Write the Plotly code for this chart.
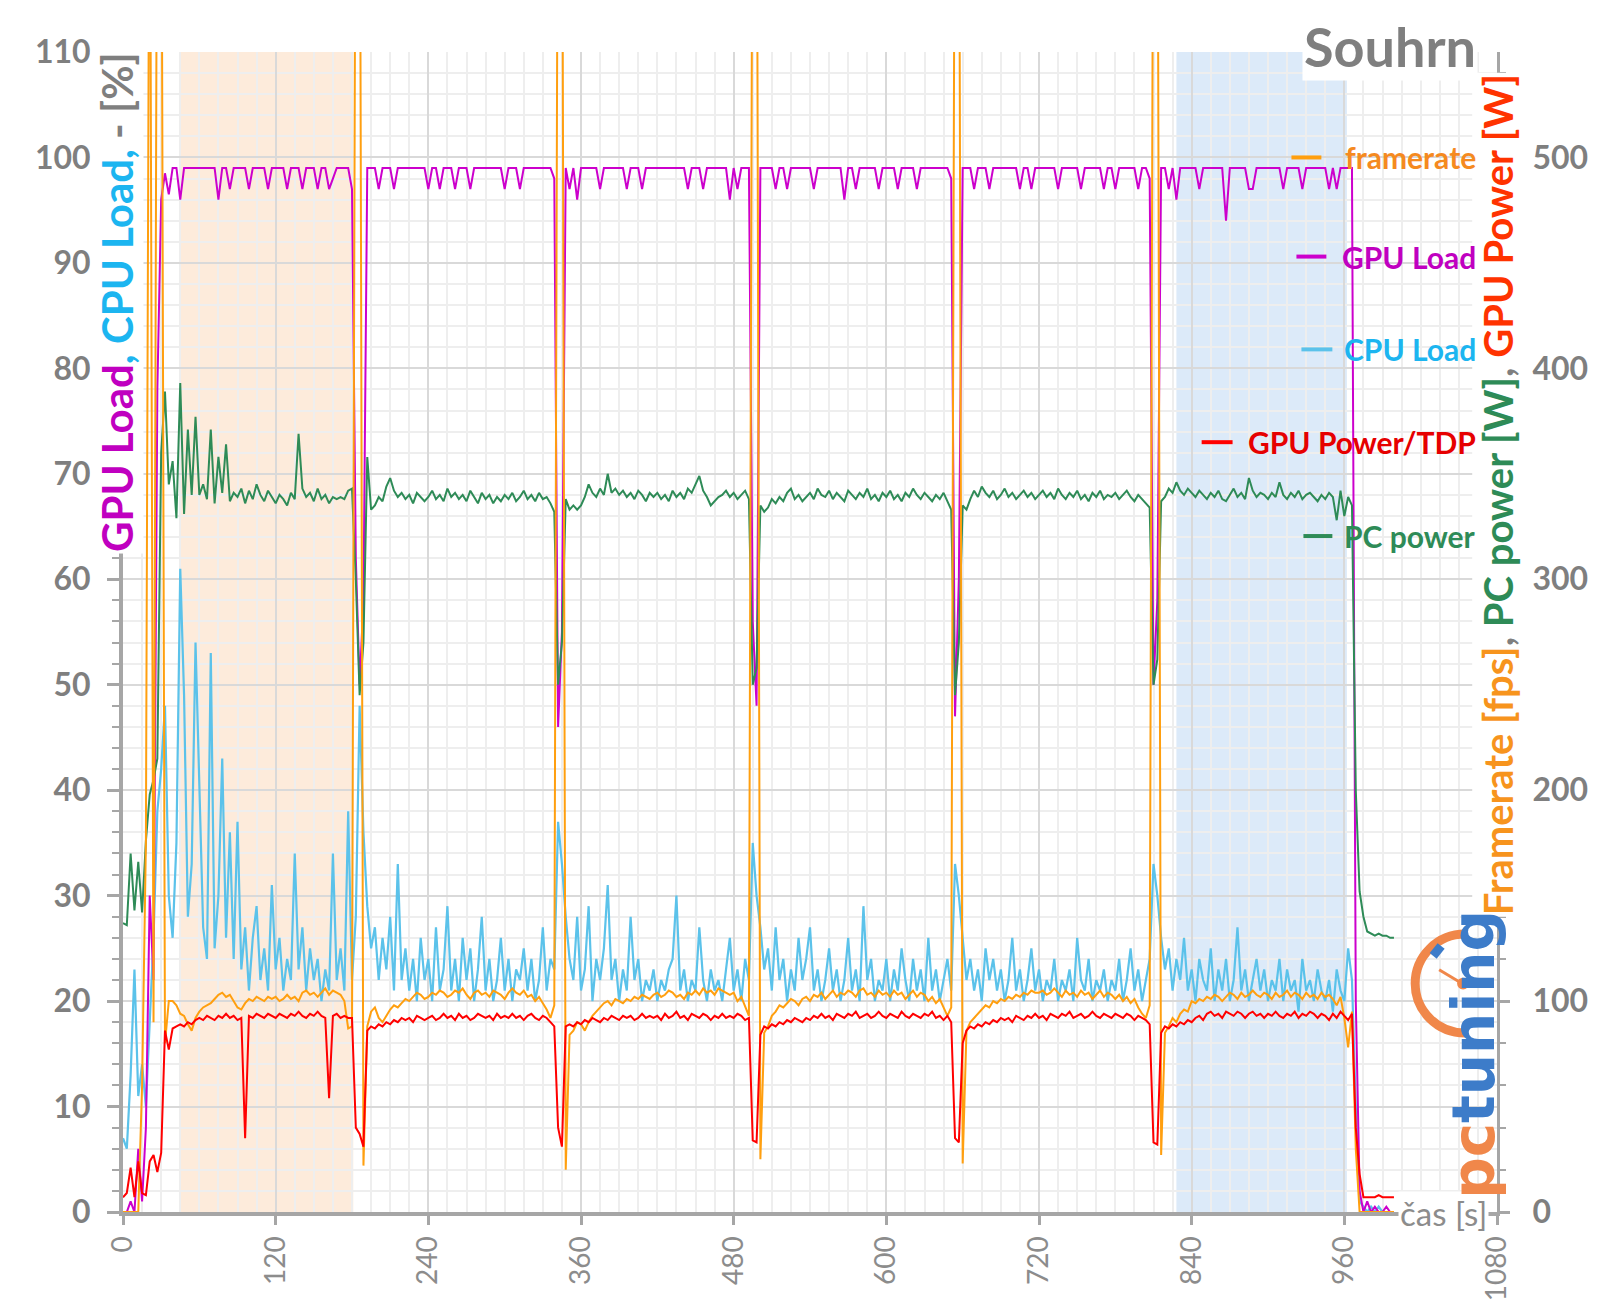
import plotly.graph_objects as go

# ---------------- data (3 s sampling) ----------------
time_s = list(range(0, 1000, 3))  # 0 .. 999 s

gpu_load_pct = [
    0, 0, 1, 0, 6, 1, 8, 30, 22, 78, 96, 98.5, 96.5, 99, 99, 96, 99, 99, 99, 99,
    99, 99, 99, 99, 99, 96, 99, 99, 97, 99, 99, 99, 99, 97, 99, 99, 99, 99, 97, 99,
    99, 99, 99, 97, 99, 99, 99, 97, 99, 99, 99, 97, 99, 99, 97, 98, 99, 99, 99, 99,
    97, 62, 50, 58, 99, 99, 99, 97, 99, 99, 99, 97, 99, 99, 99, 99, 99, 99, 99, 99,
    97, 99, 99, 97, 99, 99, 99, 97, 99, 99, 99, 97, 99, 99, 99, 99, 99, 99, 99, 99,
    97, 99, 99, 99, 97, 99, 99, 99, 99, 99, 99, 99, 99, 98, 46, 55, 99, 97, 99, 96,
    99, 99, 99, 99, 99, 97, 99, 99, 99, 99, 99, 99, 97, 99, 99, 99, 97, 99, 99, 99,
    99, 99, 99, 99, 99, 99, 99, 99, 97, 99, 99, 99, 97, 99, 99, 99, 99, 99, 99, 96,
    99, 97, 99, 99, 99, 56, 48, 99, 99, 99, 99, 97, 99, 99, 97, 99, 99, 99, 99, 99,
    99, 97, 99, 99, 99, 99, 99, 99, 99, 96, 99, 99, 97, 99, 99, 99, 99, 99, 97, 99,
    99, 99, 99, 97, 99, 99, 99, 99, 97, 99, 99, 99, 99, 99, 99, 99, 99, 98, 47, 60,
    99, 99, 99, 97, 99, 99, 99, 97, 99, 99, 99, 99, 99, 99, 99, 97, 99, 99, 97, 99,
    99, 99, 99, 99, 99, 97, 99, 99, 99, 99, 99, 97, 99, 99, 99, 99, 99, 97, 99, 99,
    97, 99, 99, 99, 99, 99, 97, 99, 99, 98, 50, 58, 99, 99, 97, 99, 96, 99, 99, 99,
    99, 99, 97, 99, 99, 99, 99, 99, 99, 94, 99, 99, 99, 99, 99, 97, 97, 99, 99, 99,
    99, 99, 99, 99, 97, 99, 99, 99, 99, 97, 99, 99, 99, 99, 99, 99, 97, 99, 97, 99,
    99, 99, 99, 20, 2, 0, 1, 0, 0.5, 0, 0, 0.5, 0, 0,
]

cpu_load_pct = [
    7, 6, 13, 23, 11, 14, 10, 18, 26, 38, 42, 48, 30, 26, 35, 61, 49, 28, 33, 54,
    40, 27, 24, 53, 25, 30, 43, 26, 36, 24, 37, 23, 27, 21, 26, 29, 22, 25, 21, 31,
    23, 26, 21, 24, 22, 34, 23, 27, 21, 25, 22, 24, 20, 23, 21, 34, 22, 25, 21, 38,
    22, 28, 48, 36, 29, 25, 27, 22, 26, 23, 28, 21, 33, 22, 25, 21, 24, 20, 26, 22,
    24, 20, 27, 21, 23, 29, 21, 24, 20, 26, 22, 25, 20, 23, 28, 21, 24, 20, 22, 26,
    21, 24, 20, 23, 22, 25, 21, 24, 20, 22, 27, 21, 24, 23, 37, 33, 28, 24, 22, 28,
    21, 23, 29, 20, 24, 22, 25, 31, 22, 24, 20, 23, 21, 28, 22, 24, 20, 22, 21, 23,
    20, 22, 21, 23, 24, 30, 21, 23, 20, 22, 21, 27, 22, 20, 23, 21, 22, 20, 23, 26,
    21, 23, 20, 24, 22, 35, 30, 27, 23, 25, 21, 27, 22, 24, 20, 23, 21, 26, 22, 24,
    27, 21, 23, 20, 22, 25, 21, 23, 20, 22, 26, 21, 23, 20, 29, 22, 24, 20, 22, 21,
    24, 20, 23, 21, 25, 22, 20, 24, 21, 23, 20, 26, 21, 23, 20, 22, 24, 21, 33, 30,
    26, 22, 24, 21, 23, 20, 25, 22, 24, 21, 23, 20, 22, 26, 21, 23, 20, 22, 25, 21,
    23, 20, 22, 21, 24, 20, 22, 21, 23, 20, 26, 22, 21, 24, 20, 22, 21, 23, 20, 22,
    21, 24, 20, 22, 25, 21, 23, 20, 22, 24, 33, 30, 26, 23, 25, 21, 24, 22, 26, 21,
    23, 20, 24, 22, 21, 25, 20, 23, 21, 24, 20, 22, 27, 21, 23, 20, 22, 24, 21, 23,
    20, 22, 21, 24, 20, 23, 21, 22, 19, 24, 21, 22, 20, 23, 21, 20, 22, 19, 23, 21,
    20, 25, 22, 10, 1, 0.5, 0, 0.5, 0, 0.5, 0, 0, 0, 0,
]

framerate_fps = [
    0, 0, 0, 0, 0, 60, 175, 700, 90, 700, 700, 80, 100, 100, 98, 94, 93, 89, 86, 92,
    95, 97, 98, 99, 101, 103, 104, 102, 103, 100, 97, 96, 99, 101, 100, 102, 101, 100, 102, 101,
    102, 100, 101, 103, 101, 102, 100, 104, 105, 103, 104, 102, 104, 106, 103, 105, 104, 103, 100, 87,
    88, 700, 700, 22, 88, 95, 97, 92, 90, 93, 96, 98, 97, 99, 101, 100, 102, 104, 103, 101,
    102, 104, 103, 105, 104, 102, 103, 105, 104, 106, 103, 101, 104, 105, 103, 104, 102, 105, 104, 103,
    101, 104, 106, 104, 103, 105, 102, 103, 100, 102, 99, 96, 92, 98, 700, 700, 20, 84, 86, 90,
    89, 86, 90, 93, 95, 97, 99, 100, 98, 101, 100, 99, 101, 100, 102, 101, 103, 102, 101, 103,
    104, 102, 103, 105, 104, 102, 103, 101, 104, 103, 105, 103, 106, 104, 105, 103, 106, 105, 104, 103,
    104, 100, 102, 97, 93, 700, 700, 25, 85, 88, 93, 95, 98, 97, 99, 101, 100, 98, 101, 102,
    100, 103, 102, 104, 101, 103, 105, 102, 104, 103, 105, 104, 102, 105, 106, 103, 104, 102, 105, 103,
    104, 102, 105, 103, 104, 101, 103, 105, 102, 104, 103, 100, 102, 99, 101, 97, 93, 97, 700, 700,
    23, 86, 90, 92, 94, 96, 98, 97, 100, 99, 101, 100, 102, 101, 103, 102, 104, 103, 105, 104,
    104, 105, 103, 104, 106, 104, 102, 105, 103, 104, 102, 105, 103, 104, 101, 103, 105, 102, 104, 103,
    101, 103, 100, 102, 99, 101, 97, 94, 92, 98, 700, 700, 27, 85, 88, 92, 90, 94, 96, 95,
    100, 99, 101, 100, 102, 101, 103, 102, 100, 102, 104, 103, 101, 104, 102, 103, 105, 103, 102, 104,
    103, 101, 104, 102, 103, 105, 102, 104, 103, 101, 104, 102, 103, 101, 104, 102, 103, 101, 98, 102,
    92, 78, 95, 30, 0, 0, 0, 0, 0, 0, 0, 0, 0, 0,
]

gpu_power_w = [
    7, 9, 21, 7, 24, 9, 8, 24, 27, 19, 28, 86, 77, 87, 88, 89, 88, 90, 89, 91,
    92, 91, 93, 92, 91, 93, 92, 94, 92, 93, 91, 92, 35, 93, 92, 94, 93, 92, 94, 93,
    92, 94, 93, 92, 94, 93, 95, 93, 92, 94, 93, 95, 93, 92, 54, 93, 94, 92, 93, 92,
    92, 40, 37, 31, 86, 88, 87, 89, 88, 90, 89, 91, 90, 92, 91, 92, 90, 93, 92, 91,
    92, 93, 91, 92, 94, 92, 93, 91, 94, 92, 93, 91, 92, 94, 93, 92, 93, 91, 94, 92,
    93, 92, 94, 92, 93, 91, 93, 94, 92, 91, 93, 92, 90, 88, 40, 31, 88, 89, 88, 90,
    89, 91, 90, 92, 91, 90, 92, 91, 93, 92, 91, 93, 92, 93, 91, 92, 94, 92, 93, 92,
    93, 91, 94, 92, 93, 95, 92, 93, 91, 94, 93, 92, 94, 93, 91, 93, 92, 94, 92, 93,
    92, 94, 93, 91, 92, 34, 33, 84, 88, 87, 89, 88, 90, 89, 91, 90, 92, 91, 90, 92,
    91, 93, 92, 94, 92, 93, 91, 94, 93, 92, 94, 93, 95, 92, 93, 94, 92, 93, 95, 93,
    92, 94, 93, 92, 95, 93, 92, 94, 93, 92, 94, 93, 95, 92, 93, 91, 93, 90, 35, 33,
    80, 86, 88, 87, 89, 88, 90, 89, 91, 90, 92, 91, 92, 90, 93, 92, 91, 93, 92, 94,
    92, 93, 91, 94, 93, 92, 94, 93, 95, 92, 93, 94, 92, 93, 95, 93, 92, 94, 93, 92,
    94, 93, 92, 94, 93, 91, 93, 92, 91, 89, 33, 32, 85, 88, 87, 89, 88, 90, 89, 91,
    90, 92, 93, 91, 94, 95, 93, 94, 92, 95, 94, 93, 95, 94, 92, 94, 95, 93, 94, 92,
    94, 93, 95, 93, 92, 94, 93, 95, 92, 94, 93, 95, 94, 92, 94, 93, 91, 94, 92, 95,
    93, 91, 94, 40, 18, 7, 7, 7, 7, 8, 7, 7, 7, 7,
]

pc_power_w = [
    137, 136, 170, 143, 166, 142, 176, 198, 205, 215, 360, 389, 345, 356, 329, 393, 331, 371, 340, 377,
    340, 345, 338, 371, 336, 358, 341, 364, 337, 341, 339, 343, 336, 342, 338, 345, 340, 337, 342, 339,
    336, 340, 338, 335, 341, 338, 369, 343, 339, 341, 337, 343, 338, 340, 336, 339, 338, 339, 338, 342,
    343, 300, 245, 270, 358, 333, 335, 339, 337, 344, 348, 342, 339, 341, 338, 340, 336, 341, 339, 337,
    339, 342, 338, 340, 337, 343, 339, 341, 338, 340, 337, 342, 339, 336, 341, 338, 340, 336, 339, 337,
    340, 338, 341, 337, 339, 342, 338, 340, 337, 341, 338, 339, 336, 332, 250, 270, 338, 333, 335, 333,
    335, 339, 345, 341, 339, 343, 340, 350, 341, 343, 340, 342, 339, 341, 338, 342, 340, 337, 341, 339,
    341, 338, 340, 337, 342, 339, 341, 338, 343, 341, 345, 349, 342, 339, 335, 337, 339, 340, 342, 339,
    341, 338, 340, 342, 338, 250, 258, 335, 332, 334, 338, 336, 339, 337, 341, 343, 338, 340, 337, 339,
    341, 338, 343, 340, 339, 342, 338, 341, 339, 337, 342, 340, 338, 341, 339, 343, 338, 340, 337, 341,
    339, 342, 338, 340, 337, 341, 339, 343, 340, 338, 341, 339, 337, 340, 338, 341, 337, 333, 245, 270,
    335, 333, 338, 342, 339, 344, 341, 339, 342, 338, 340, 343, 339, 341, 338, 340, 342, 339, 341, 338,
    340, 342, 339, 341, 338, 343, 340, 338, 341, 339, 342, 338, 340, 337, 341, 339, 342, 338, 340, 339,
    341, 338, 340, 342, 339, 337, 340, 338, 336, 334, 250, 262, 337, 339, 343, 341, 346, 342, 340, 343,
    341, 339, 342, 340, 338, 341, 339, 342, 338, 337, 340, 343, 339, 341, 338, 348, 342, 339, 341, 340,
    338, 341, 339, 346, 340, 338, 341, 339, 342, 338, 340, 341, 339, 337, 340, 338, 341, 339, 328, 342,
    330, 339, 335, 200, 152, 140, 133, 132, 131, 132, 131, 131, 130, 130,
]

# highlighted intervals (seconds)
orange_band = [44, 181]
blue_band = [828, 962]

series_names = ["framerate", "GPU Load", "CPU Load", "GPU Power/TDP", "PC power"]

x_ticks = list(range(0, 1081, 120))
y_left_ticks = list(range(0, 111, 10))
y_right_ticks = list(range(0, 501, 100))

# ---------------- styling ----------------
FONT = "Lato"
GRAY = "#7F7F7F"
AXIS_GRAY = "#A6A6A6"
C_FPS, C_FPS_T = "#FF9F0F", "#F58A1F"
C_GPU, C_GPU_T = "#CC00CC", "#C000C0"
C_CPU, C_CPU_T = "#5BC2EA", "#1CB5F0"
C_PWR, C_PWR_T = "#FF0000", "#E60000"
C_PC, C_PC_T = "#2E8B57", "#2E8B57"

# plot area in pixels
L, R, T, B = 123, 100, 52, 88
W, H = 1600, 1313
PW, PH = W - L - R, H - T - B


def px(x):
    return (x - L) / PW


def py(y):
    return (H - B - y) / PH


def xs(arr):
    return time_s[:len(arr)]


fig = go.Figure()
fig.add_trace(go.Scatter(x=xs(cpu_load_pct), y=cpu_load_pct, name="CPU Load", mode="lines",
                         line=dict(color=C_CPU, width=2.2), yaxis="y"))
fig.add_trace(go.Scatter(x=xs(gpu_load_pct), y=gpu_load_pct, name="GPU Load", mode="lines",
                         line=dict(color=C_GPU, width=2), yaxis="y"))
fig.add_trace(go.Scatter(x=xs(pc_power_w), y=pc_power_w, name="PC power", mode="lines",
                         line=dict(color=C_PC, width=2), yaxis="y2"))
fig.add_trace(go.Scatter(x=xs(framerate_fps), y=framerate_fps, name="framerate", mode="lines",
                         line=dict(color=C_FPS, width=2), yaxis="y2"))
fig.add_trace(go.Scatter(x=xs(gpu_power_w), y=gpu_power_w, name="GPU Power/TDP", mode="lines",
                         line=dict(color=C_PWR, width=2), yaxis="y2"))

shapes = [
    dict(type="rect", xref="x", yref="paper", x0=orange_band[0], x1=orange_band[1], y0=0, y1=1,
         fillcolor="#FDEBDB", line=dict(width=0), layer="below"),
    dict(type="rect", xref="x", yref="paper", x0=blue_band[0], x1=blue_band[1], y0=0, y1=1,
         fillcolor="#DCEAF9", line=dict(width=0), layer="below"),
]

# pctuning stopwatch decoration (paper coordinates)
cx, cy, r = 1468, 994, 50
k = 0.5523 * r
arc = (f"M {px(cx)},{py(cy - r)} "
       f"C {px(cx - k)},{py(cy - r)} {px(cx - r)},{py(cy - k)} {px(cx - r)},{py(cy)} "
       f"C {px(cx - r)},{py(cy + k)} {px(cx - k)},{py(cy + r)} {px(cx)},{py(cy + r)}")
shapes.append(dict(type="path", xref="paper", yref="paper", path=arc,
                   line=dict(color="#F0874A", width=9), layer="above"))
shapes.append(dict(type="line", xref="paper", yref="paper", x0=px(cx - 3), y0=py(cy),
                   x1=px(1442), y1=py(980), line=dict(color="#F0874A", width=3)))
shapes.append(dict(type="circle", xref="paper", yref="paper", x0=px(cx - 8), x1=px(cx + 4),
                   y0=py(cy - 6), y1=py(cy + 6), fillcolor="#F0874A", line=dict(width=0)))
shapes.append(dict(type="line", xref="paper", yref="paper", x0=px(1436), y0=py(966),
                   x1=px(1444), y1=py(956), line=dict(color="#3D7CC9", width=9)))

# legend entries (line marks + labels)
legend_y = [100, 90.6, 81.8, 73.0, 64.1]
legend_line_x = [(1294, 1324), (1299, 1329), (1304, 1335), (1204, 1235), (1306, 1335)]
legend_line_cols = [C_FPS, C_GPU, C_CPU, C_PWR, C_PC]
legend_text_cols = [C_FPS_T, C_GPU_T, C_CPU_T, C_PWR_T, C_PC_T]
for (x0, x1), yy, col in zip(legend_line_x, legend_y, legend_line_cols):
    shapes.append(dict(type="line", xref="paper", yref="y", x0=px(x0), x1=px(x1), y0=yy, y1=yy,
                       line=dict(color=col, width=4), layer="above"))

annotations = [
    dict(xref="paper", yref="paper", x=px(1481), y=py(46), xanchor="right", yanchor="middle",
         text="<b>Souhrn</b>", showarrow=False, bgcolor="white",
         font=dict(family=FONT, size=54, color=GRAY)),
    dict(xref="paper", yref="paper", x=px(117), y=py(50), xanchor="center", yanchor="top",
         textangle=-90, showarrow=False, bgcolor="white",
         text=(f"<b><span style='color:{C_GPU_T}'>GPU Load</span>"
               f"<span style='color:{C_CPU_T}'>, CPU Load,</span>"
               f"<span style='color:{GRAY}'> - [%]</span></b>"),
         font=dict(family=FONT, size=42, color=GRAY)),
    dict(xref="paper", yref="paper", x=px(1501), y=py(72), xanchor="center", yanchor="top",
         textangle=-90, showarrow=False, bgcolor="white",
         text=("<b><span style='color:#F7941D'>Framerate [fps]</span>"
               f"<span style='color:{GRAY}'>, </span>"
               f"<span style='color:{C_PC_T}'>PC power [W]</span>"
               f"<span style='color:{GRAY}'>, </span>"
               "<span style='color:#FF3300'>GPU Power [W]</span></b>"),
         font=dict(family=FONT, size=40, color=GRAY)),
    dict(xref="paper", yref="paper", x=px(1492), y=py(1226), xanchor="right", yanchor="middle",
         text="čas [s]", showarrow=False, bgcolor="white",
         font=dict(family=FONT, size=33, color="#8C8C8C")),
    dict(xref="paper", yref="paper", x=px(1477), y=py(1066), xanchor="center", yanchor="middle",
         textangle=-90, showarrow=False,
         text="<b><span style='color:#F0874A'>pc</span><span style='color:#3D7CC9'>tuning</span></b>",
         font=dict(family="DejaVu Sans", size=58, color="#3D7CC9")),
]
for name, yy, col in zip(series_names, legend_y, legend_text_cols):
    annotations.append(dict(
        xref="paper", yref="y", x=px(1481), y=yy, xanchor="right", yanchor="middle",
        text=f"<b>{name}</b>", showarrow=False,
        font=dict(family=FONT, size=30, color=col)))

fig.update_layout(
    width=W, height=H,
    margin=dict(l=L, r=R, t=T, b=B, pad=0),
    paper_bgcolor="white", plot_bgcolor="white",
    showlegend=False,
    font=dict(family=FONT, color=GRAY),
    shapes=shapes,
    annotations=annotations,
    xaxis=dict(
        range=[0, 1080], tickmode="array", tickvals=x_ticks, ticktext=[str(v) for v in x_ticks],
        showline=True, linecolor=AXIS_GRAY, linewidth=4,
        ticks="outside", ticklen=9, tickwidth=3, tickcolor=AXIS_GRAY,
        showgrid=True, gridcolor="#D9D9D9", gridwidth=2,
        minor=dict(dtick=15, tick0=0, showgrid=True, gridcolor="#EEEEEE", gridwidth=1.5),
        tickangle=-90, tickfont=dict(family=FONT, size=28, color="#8C8C8C"),
        zeroline=False,
    ),
    yaxis=dict(
        range=[0, 110], tickmode="array", tickvals=y_left_ticks,
        ticktext=[f"<b>{v}</b>" for v in y_left_ticks],
        showline=True, linecolor=AXIS_GRAY, linewidth=4,
        ticks="outside", ticklen=12, tickwidth=3, tickcolor=AXIS_GRAY,
        showgrid=True, gridcolor="#D9D9D9", gridwidth=2,
        minor=dict(dtick=2, tick0=0, ticks="outside", ticklen=7, tickwidth=2, tickcolor=AXIS_GRAY,
                   showgrid=True, gridcolor="#EEEEEE", gridwidth=1.5),
        tickfont=dict(family=FONT, size=32, color=GRAY),
        ticklabelstandoff=10,
        zeroline=False,
    ),
    yaxis2=dict(
        range=[0, 550], tickmode="array", tickvals=y_right_ticks,
        ticktext=[f"<b>{v}</b>" for v in y_right_ticks],
        overlaying="y", side="right",
        showline=True, linecolor=AXIS_GRAY, linewidth=3,
        ticks="outside", ticklen=10, tickwidth=3, tickcolor=AXIS_GRAY,
        showgrid=False,
        minor=dict(dtick=20, tick0=0, ticks="outside", ticklen=6, tickwidth=2, tickcolor=AXIS_GRAY),
        tickfont=dict(family=FONT, size=32, color=GRAY),
        ticklabelstandoff=16,
        zeroline=False,
    ),
)

fig.write_html("out.html", config={"displayModeBar": False},
               post_script="document.body.style.margin='0';document.body.style.overflow='hidden';")
